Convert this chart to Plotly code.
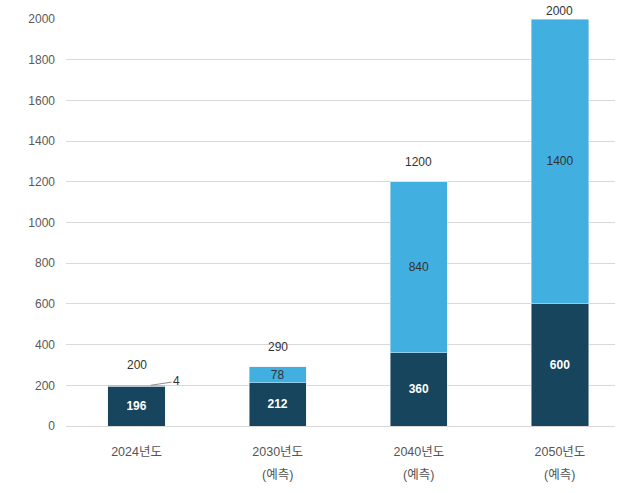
import plotly.graph_objects as go

categories = ["2024년도", "2030년도", "2040년도", "2050년도"]
sub_labels = ["", "(예측)", "(예측)", "(예측)"]
base_values = [196, 212, 360, 600]
top_values = [4, 78, 840, 1400]
totals = [200, 290, 1200, 2000]
y_ticks = [0, 200, 400, 600, 800, 1000, 1200, 1400, 1600, 1800, 2000]

DARK = "#17455e"
LIGHT = "#41afdf"
FONT = "Liberation Sans, Noto Sans CJK KR"

x = list(range(len(categories)))

fig = go.Figure()
fig.add_trace(go.Bar(
    x=x, y=base_values, marker_color=DARK, width=0.405,
    text=[str(v) for v in base_values], textposition="inside",
    insidetextanchor="middle", textangle=0,
    textfont=dict(color="white", size=12, family=FONT, weight="bold"),
    hoverinfo="skip",
))
top_text = ["" if v < 20 else str(v) for v in top_values]
fig.add_trace(go.Bar(
    x=x, y=top_values, marker_color=LIGHT, width=0.405,
    text=top_text, textposition="inside", insidetextanchor="middle",
    textangle=0,
    textfont=dict(color="#333333", size=12, family=FONT),
    hoverinfo="skip",
))

ann = []
for i, t in enumerate(totals):
    ys = 20 if t < 2000 else 8
    ann.append(dict(x=i, y=t, text=str(t), showarrow=False, yshift=ys,
                    font=dict(size=12, color="#333333", family=FONT)))
# small segment label with leader line
for i, v in enumerate(top_values):
    if v < 20:
        ann.append(dict(x=i + 0.1, y=base_values[i] + v, text=str(v),
                        showarrow=True, arrowhead=0, arrowwidth=1,
                        arrowcolor="#8c8c8c", ax=26, ay=-4,
                        font=dict(size=12, color="#333333", family=FONT)))
for i, s in enumerate(sub_labels):
    if s:
        ann.append(dict(x=i, y=0, yref="y", text=s, showarrow=False,
                        yshift=-49, font=dict(size=12.5, color="#555555", family=FONT)))

fig.update_layout(
    barmode="stack",
    width=628, height=493,
    margin=dict(l=66, r=13, t=17, b=67),
    plot_bgcolor="white", paper_bgcolor="white",
    showlegend=False,
    uniformtext=dict(minsize=12, mode="show"),
    font=dict(family=FONT, color="#555555"),
    annotations=ann,
    xaxis=dict(tickmode="array", tickvals=x, ticktext=categories,
               range=[-0.5, 3.39], showgrid=False, showline=False,
               ticks="", ticklabelstandoff=16,
               tickfont=dict(size=12.5, color="#555555", family=FONT)),
    yaxis=dict(range=[0, 2000], tickvals=y_ticks, showgrid=True,
               gridcolor="#d9d9d9", gridwidth=1, zeroline=True,
               zerolinecolor="#d9d9d9", zerolinewidth=1,
               ticks="", ticklabelstandoff=10,
               tickfont=dict(size=12, color="#595959", family=FONT)),
)
fig.write_html("out.html", config={"displayModeBar": False},
               post_script="document.body.style.margin='0';")
